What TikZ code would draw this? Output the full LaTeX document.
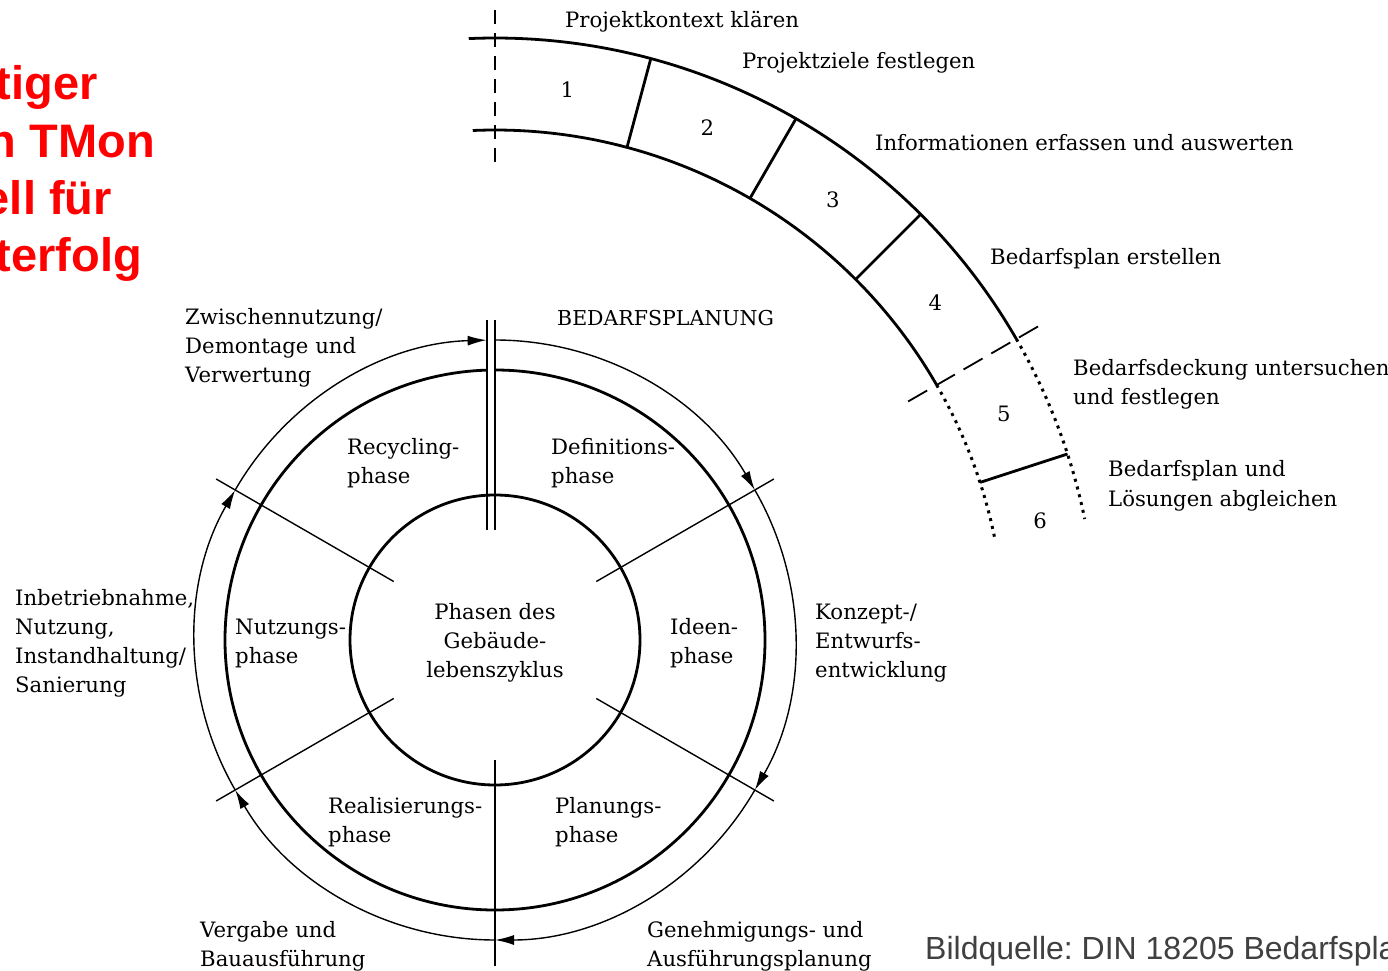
\documentclass[tikz,border=0pt]{standalone}
\usepackage{fontspec}
\setmainfont{DejaVu Serif}
\newfontfamily\slidefont{Liberation Sans}
\usetikzlibrary{arrows.meta,calc}
\definecolor{titlered}{RGB}{255,0,0}
\definecolor{sourcegray}{RGB}{64,64,64}
% multi-line text blocks whose baseline is the baseline of the first line
\newcommand\leftlines[1]{\vtop{\baselineskip=29pt\lineskiplimit=-100pt\halign{##\hfil\cr#1\crcr}}}
\newcommand\midlines[1]{\vtop{\baselineskip=29pt\lineskiplimit=-100pt\halign{\hfil##\hfil\cr#1\crcr}}}

\begin{document}
\frenchspacing
\begin{tikzpicture}[x=1pt,y=1pt,
  heavy/.style={line width=2.8pt},
  thinline/.style={line width=1.4pt},
  flow/.style={thinline,-{Latex[length=19pt,width=10pt]}},
  dotline/.style={line width=3pt,dash pattern=on 3pt off 5pt},
  dashline/.style={line width=2.2pt,dash pattern=on 14pt off 9pt},
  dashlong/.style={line width=1.8pt,dash pattern=on 22pt off 10pt},
  lbl/.style={inner sep=0pt,anchor=base west,font=\fontsize{21.2}{29}\selectfont},
  lblc/.style={inner sep=0pt,anchor=base,font=\fontsize{21.2}{29}\selectfont},
  num/.style={inner sep=0pt,font=\fontsize{21.2}{29}\selectfont},
  headline/.style={inner sep=0pt,anchor=base east,text=titlered,font=\slidefont\bfseries\fontsize{47}{57}\selectfont},
  source/.style={inner sep=0pt,anchor=base west,text=sourcegray,font=\slidefont\fontsize{32}{36}\selectfont}]
\useasboundingbox (0,0) rectangle (1388,970);
\fill[white] (0,0) rectangle (1388,970);
\coordinate (C) at (495,330);

% ---- slide heading (cut at the left edge)
\node[headline] (h1) at (98,870) {tiger};
\node[headline] (h2) at (155,812) {n TMon};
\node[headline] (h3) at (112,755) {ell für};
\node[headline] (h4) at (142,698) {terfolg};

% ---- life cycle rings
\draw[heavy] (C) circle[radius=145];
\draw[heavy] ($(C)+(90:270)$) arc[start angle=90,end angle=-268.3,radius=270];

% clockwise flow on the outer ring
\draw[flow] ($(C)+(150:300)$) arc[start angle=150,end angle=91.6,radius=300];
\draw[flow] ($(C)+(90:300)$) arc[start angle=90,end angle=30,radius=300];
\draw[flow] ($(C)+(30:300)$) arc[start angle=30,end angle=-30,radius=300];
\draw[flow] ($(C)+(-30:300)$) arc[start angle=-30,end angle=-90,radius=300];
\draw[flow] ($(C)+(-90:300)$) arc[start angle=-90,end angle=-150,radius=300];
\draw[flow] ($(C)+(210:300)$) arc[start angle=210,end angle=150,radius=300];

% phase boundaries
\foreach \a in {30,-30,150,210}
  \draw[thinline] ($(C)+(\a:117)$) -- ($(C)+(\a:322)$);
\draw[thinline] ($(C)+(-90:120)$) -- ($(C)+(-90:326)$);
\draw[line width=1.8pt] (487,650) -- (487,440);
\draw[line width=1.8pt] (495,650) -- (495,440);

% ---- steps of the Bedarfsplanung
\draw[heavy] ($(C)+(92.5:602)$) arc[start angle=92.5,end angle=30,radius=602];
\draw[heavy] ($(C)+(92.5:510)$) arc[start angle=92.5,end angle=30,radius=510];
\draw[dotline] ($(C)+(30:602)$) arc[start angle=30,end angle=11.6,radius=602];
\draw[dotline] ($(C)+(30:510)$) arc[start angle=30,end angle=11.6,radius=510];
\foreach \a in {75,60,45,18}
  \draw[heavy] ($(C)+(\a:510)$) -- ($(C)+(\a:602)$);
\draw[dashline] ($(C)+(90:478)$) -- ($(C)+(90:632)$);
\draw[dashlong] ($(C)+(30:477)$) -- ($(C)+(30:635)$);

\node[num] (s1) at ($(C)+(82.5:555)$) {1};
\node[num] (s2) at ($(C)+(67.5:555)$) {2};
\node[num] (s3) at ($(C)+(52.5:555)$) {3};
\node[num] (s4) at ($(C)+(37.5:555)$) {4};
\node[num] (s5) at ($(C)+(24:557)$) {5};
\node[num] (s6) at ($(C)+(12.3:558)$) {6};

\node[lbl] (t1) at (565,942) {Projektkontext klären};
\node[lbl] (t2) at (742,901) {Projektziele festlegen};
\node[lbl] (t3) at (875,819) {Informationen erfassen und auswerten};
\node[lbl] (t4) at (990,705) {Bedarfsplan erstellen};
\node[lbl] (t5) at (1073,594) {\leftlines{Bedarfsdeckung untersuchen\cr und festlegen}};
\node[lbl] (t6) at (1108,493) {\leftlines{Bedarfsplan und\cr Lösungen abgleichen}};

% ---- phase names
\node[lbl,font=\fontsize{20.5}{29}\selectfont] (bp) at (557,644) {BEDARFSPLANUNG};
\node[lblc] (core) at (495,351) {\midlines{Phasen des\cr Gebäude-\cr lebenszyklus}};
\node[lbl] (pdef) at (551,515) {\leftlines{Definitions-\cr phase}};
\node[lbl] (pidee) at (670,336) {\leftlines{Ideen-\cr phase}};
\node[lbl] (pplan) at (555,157) {\leftlines{Planungs-\cr phase}};
\node[lbl] (preal) at (328,157) {\leftlines{Realisierungs-\cr phase}};
\node[lbl] (pnutz) at (235,336) {\leftlines{Nutzungs-\cr phase}};
\node[lbl] (precy) at (347,515) {\leftlines{Recycling-\cr phase}};

% ---- activities around the ring
\node[lbl] (aZw) at (185,645) {\leftlines{Zwischennutzung/\cr Demontage und\cr Verwertung}};
\node[lbl] (aKo) at (815,351) {\leftlines{Konzept-/\cr Entwurfs-\cr entwicklung}};
\node[lbl] (aGe) at (647,33) {\leftlines{Genehmigungs- und\cr Ausführungsplanung}};
\node[lbl] (aVe) at (200,33) {\leftlines{Vergabe und\cr Bauausführung}};
\node[lbl] (aIn) at (15,365) {\leftlines{Inbetriebnahme,\cr Nutzung,\cr Instandhaltung/\cr Sanierung}};

\node[source] (src) at (925,11) {Bildquelle: DIN 18205 Bedarfspla};
\end{tikzpicture}
\end{document}
